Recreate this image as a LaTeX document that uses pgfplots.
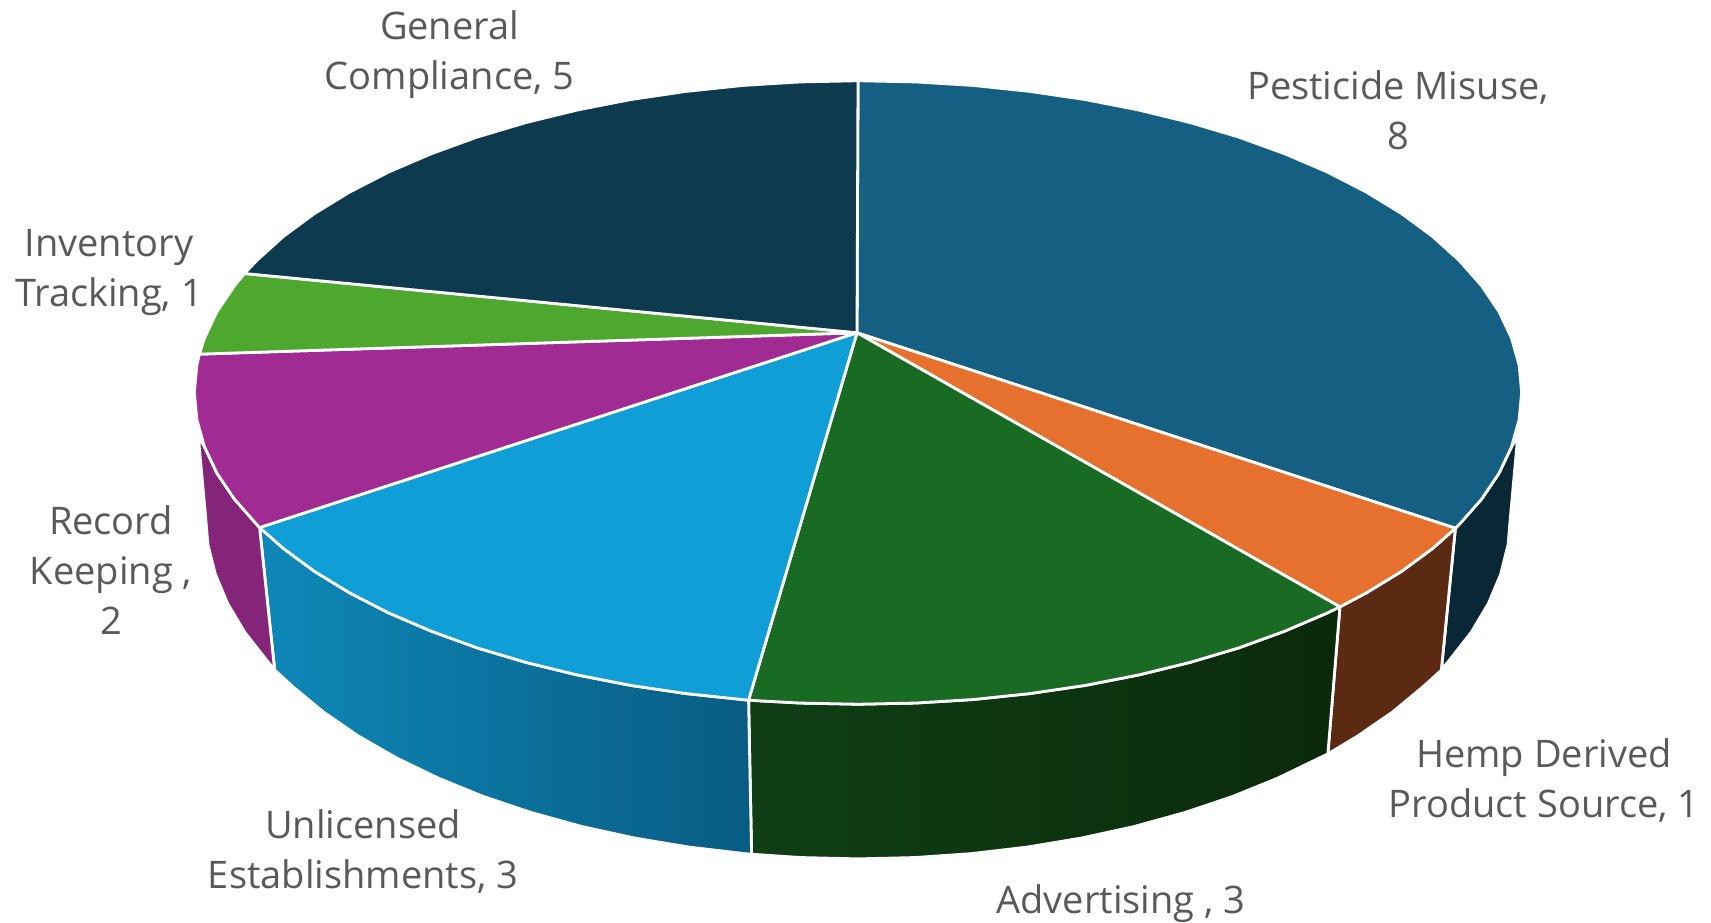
\documentclass[border=0pt]{standalone}
\usepackage{pgfplots}
\pgfplotsset{compat=1.18}
\usepackage{fontspec}
\setmainfont{Open Sans}
\definecolor{cPest}{HTML}{156082}
\definecolor{cPestW}{HTML}{0A2736}
\definecolor{cHemp}{HTML}{E6712F}
\definecolor{cHempW}{HTML}{5C2A13}
\definecolor{cAdv}{HTML}{196B24}
\definecolor{cAdvL}{HTML}{0F3F14}
\definecolor{cAdvR}{HTML}{0A2A0B}
\definecolor{cUnl}{HTML}{0F9ED5}
\definecolor{cUnlL}{HTML}{0E88B8}
\definecolor{cUnlR}{HTML}{085C83}
\definecolor{cRec}{HTML}{A02B93}
\definecolor{cRecW}{HTML}{85257A}
\definecolor{cInv}{HTML}{4EA72E}
\definecolor{cGen}{HTML}{0D3A4E}
\definecolor{cTxt}{HTML}{595959}
\tikzset{lbl/.style={text=cTxt, align=center, inner sep=0pt, font=\fontsize{38}{50}\selectfont}}
\begin{document}
\begin{tikzpicture}
\begin{axis}[
  hide axis, clip=false,
  anchor=south west, at={(0,0)},
  x=1.004pt, y=1.004pt,
  xmin=3.42, xmax=1707.6, ymin=1.56, ymax=920.9,
  y dir=reverse,
  every axis plot/.append style={line join=round},
]
% side walls
\addplot[draw=white, line width=2.8pt, fill=cPestW] coordinates {
 (1515,437) (1508,514) (1505.5,543.9) (1498.1,573.5) (1485.8,602.8) (1468.8,631.3) (1447.1,659) (1439,669)
 (1453,528) (1479.1,498.7) (1496.5,472.9) (1509,446.4)} -- cycle;
\addplot[draw=white, line width=2.8pt, fill=cHempW] coordinates {
 (1453,527.7) (1439,669) (1420.9,685.5) (1390.5,710.7) (1355.9,734.5) (1326,752.5) (1338,606) (1364.3,592.1) (1399.5,570.6) (1430.4,547.8)} -- cycle;
\addplot[draw=white, line width=2.8pt, left color=cAdvL, right color=cAdvR] coordinates {
 (1338,606) (1326,752.5) (1317.6,756.5) (1275.8,776.7) (1230.8,795) (1183,811) (1132.7,824.9) (1080.3,836.3) (1026.2,845.3) (970.8,851.8) (914.7,855.7) (858,857) (801.3,855.7) (752,852.4)
 (749,699) (800.4,701.8) (858,703) (915.6,701.8) (972.8,698.3) (1029.1,692.4) (1084.1,684.3) (1137.3,673.9) (1188.5,661.4) (1237.2,646.9) (1282.9,630.3) (1325.4,612.1)} -- cycle;
\addplot[draw=white, line width=2.8pt, left color=cUnlL, right color=cUnlR] coordinates {
 (749,699) (752,852.4) (745.2,851.8) (689.8,845.3) (635.7,836.3) (583.3,824.9) (533,811) (485.2,795) (440.2,776.7) (398.4,756.5) (360.1,734.5) (325.5,710.7) (295.1,685.5) (277,669)
 (262,527) (285.6,547.8) (316.5,570.6) (351.7,592.1) (390.6,612.1) (433.1,630.3) (478.8,646.9) (527.5,661.4) (578.7,673.9) (631.9,684.3) (686.9,692.4)} -- cycle;
\addplot[draw=white, line width=2.8pt, fill=cRecW] coordinates {
 (262,527) (277,669) (268.9,659) (247.2,631.3) (230.2,602.8) (217.9,573.5) (210.5,543.9) (208,514) (201,437)
 (207,446.4) (219.5,472.9) (236.9,498.7) (258.9,523.7)} -- cycle;
% top faces
\addplot[draw=white, line width=2.8pt, fill=cPest] coordinates {
 (857,333) (858,82) (915.6,83.2) (972.8,86.7) (1029.1,92.6) (1084.1,100.7) (1137.3,111.1) (1188.5,123.6) (1237.2,138.1) (1282.9,154.7) (1325.4,172.9) (1364.3,192.9) (1399.5,214.4) (1430.4,237.2) (1457.1,261.3) (1479.1,286.3) (1496.5,312.1) (1509,338.6) (1516.5,365.4) (1519,392.5) (1516.5,419.6) (1509,446.4) (1496.5,472.9) (1479.1,498.7) (1457.1,523.7) (1453,527.7)} -- cycle;
\addplot[draw=white, line width=2.8pt, fill=cHemp] coordinates {
 (857,333) (1453,527.7) (1430.4,547.8) (1399.5,570.6) (1364.3,592.1) (1338,606)} -- cycle;
\addplot[draw=white, line width=2.8pt, fill=cAdv] coordinates {
 (857,333) (1338,606) (1325.4,612.1) (1282.9,630.3) (1237.2,646.9) (1188.5,661.4) (1137.3,673.9) (1084.1,684.3) (1029.1,692.4) (972.8,698.3) (915.6,701.8) (858,703) (800.4,701.8) (749,699)} -- cycle;
\addplot[draw=white, line width=2.8pt, fill=cUnl] coordinates {
 (857,333) (749,699) (686.9,692.4) (631.9,684.3) (578.7,673.9) (527.5,661.4) (478.8,646.9) (433.1,630.3) (390.6,612.1) (351.7,592.1) (316.5,570.6) (285.6,547.8) (262,527)} -- cycle;
\addplot[draw=white, line width=2.8pt, fill=cRec] coordinates {
 (857,333) (262,527) (258.9,523.7) (236.9,498.7) (219.5,472.9) (207,446.4) (199.5,419.6) (197,392.5) (199.5,365.4) (202,354.3)} -- cycle;
\addplot[draw=white, line width=2.8pt, fill=cInv] coordinates {
 (857,333) (202,354.3) (207,338.6) (219.5,312.1) (236.9,286.3) (247,274)} -- cycle;
\addplot[draw=white, line width=2.8pt, fill=cGen] coordinates {
 (857,333) (247,274) (258.9,261.3) (285.6,237.2) (316.5,214.4) (351.7,192.9) (390.6,172.9) (433.1,154.7) (478.8,138.1) (527.5,123.6) (578.7,111.1) (631.9,100.7) (686.9,92.6) (743.2,86.7) (800.4,83.2) (858,82)} -- cycle;
% data labels
\node[lbl] at (axis cs:451.2,55.8) {General\\Compliance, 5};
\node[lbl] at (axis cs:1395.8,111.1) {Pesticide Misuse,\\8};
\node[lbl] at (axis cs:112,272.5) {Inventory\\Tracking, 1};
\node[lbl] at (axis cs:114,569.3) {Record\\Keeping ,\\2};
\node[lbl] at (axis cs:365,849.2) {Unlicensed\\Establishments, 3};
\node[lbl] at (axis cs:1120,902) {Advertising , 3};
\node[lbl] at (axis cs:1541.3,778.5) {Hemp Derived\\Product Source, 1};
\end{axis}
\pgfresetboundingbox
\path[use as bounding box] (0pt,0pt) rectangle (1711pt,923pt);
\end{tikzpicture}
\end{document}
